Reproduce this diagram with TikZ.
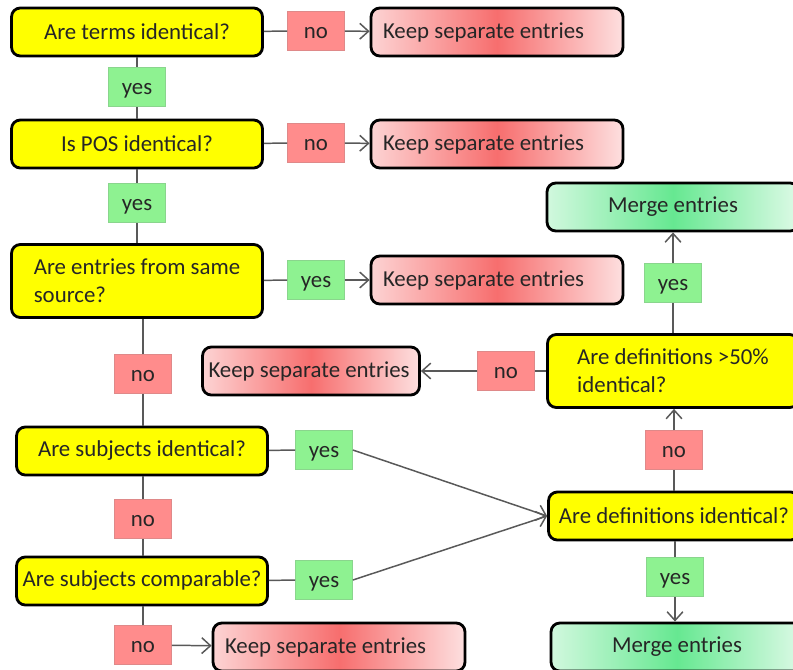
\documentclass[tikz,border=0pt]{standalone}
\usepackage{fontspec}
\setmainfont{Carlito}
\usetikzlibrary{positioning, arrows.meta}
\definecolor{ask-yellow}{HTML}{FFFF00}
\definecolor{tag-yes}{HTML}{8EF291}
\definecolor{tag-no}{HTML}{FF8C8C}
\definecolor{keep-red}{HTML}{F76E6E}
\definecolor{merge-green}{HTML}{66E891}
\definecolor{link-gray}{HTML}{595959}

\begin{document}
\begin{tikzpicture}[x=0.02cm, y=-0.02cm,
    ask/.style={draw, line width=1.6pt, rounded corners=5pt, fill=ask-yellow,
                minimum width=5.02cm, minimum height=0.96cm, align=left,
                font=\fontsize{13}{16}\selectfont, text=black!85},
    keep/.style={draw, line width=1.6pt, rounded corners=5pt,
                 minimum width=5.04cm, minimum height=0.96cm,
                 inner xsep=0.24cm, text width=4.56cm, align=flush left,
                 left color=keep-red!30, right color=keep-red!22, middle color=keep-red,
                 font=\fontsize{13}{16}\selectfont, text=black!85},
    merge/.style={keep, align=flush center, left color=merge-green!30, right color=merge-green!22,
                  middle color=merge-green},
    yestag/.style={fill=tag-yes, draw=tag-yes!75!gray, line width=0.4pt,
                   minimum width=1.14cm, minimum height=0.78cm,
                   text height=8pt, text depth=0pt,
                   font=\fontsize{13}{16}\selectfont, text=black!85},
    notag/.style={yestag, fill=tag-no, draw=tag-no!75!gray},
    link/.style={draw=link-gray, line width=0.85pt},
    flow/.style={link, -{Straight Barb[length=5pt, width=9pt]}},
]
    \useasboundingbox (0,0) rectangle (793,669);
    \clip (0,0) rectangle (793,669);

    \node[ask] (q1) at (137,32) {Are terms identical?};
    \node[ask] (q2) at (137,144) {Is POS identical?};
    \node[ask, minimum height=1.46cm] (q3) at (137,281) {Are entries from same\\source?};
    \node[ask] (q4) at (142,451) {Are subjects identical?};
    \node[ask] (q5) at (142,581) {Are subjects comparable?};
    \node[ask, minimum height=1.46cm] (q6) at (673,371) {Are definitions >50\%\\identical?};
    \node[ask] (q7) at (674,516) {Are definitions identical?};

    \node[keep] (k1) at (497,32) {Keep separate entries};
    \node[keep] (k2) at (497,144) {Keep separate entries};
    \node[keep] (k3) at (497,280) {Keep separate entries};
    \node[keep, minimum width=4.34cm, inner xsep=0.12cm, text width=4.1cm] (k4) at (311,371) {Keep separate entries};
    \node[keep] (k5) at (339,647) {Keep separate entries};
    \node[merge] (m1) at (673,207) {Merge entries};
    \node[merge] (m2) at (677,647) {Merge entries};

    \node[notag] (n1) at (316,31) {no};
    \node[yestag] (y1) at (137,87) {yes};
    \node[notag] (n2) at (316,143) {no};
    \node[yestag] (y2) at (137,203) {yes};
    \node[yestag] (y3) at (316,280) {yes};
    \node[notag] (n3) at (143,374) {no};
    \node[yestag] (y4) at (324,450) {yes};
    \node[notag] (n4) at (143,519) {no};
    \node[yestag] (y5) at (324,580) {yes};
    \node[notag] (n5) at (143,645) {no};
    \node[yestag] (y6) at (673,283) {yes};
    \node[notag] (n6) at (506,371) {no};
    \node[notag] (n7) at (674,450) {no};
    \node[yestag] (y7) at (675,577) {yes};

    \draw[link] (q1) -- (n1);
    \draw[flow] (n1) -- (k1);
    \draw[link] (q1) -- (y1);
    \draw[link] (y1) -- (q2);
    \draw[link] (q2) -- (n2);
    \draw[flow] (n2) -- (k2);
    \draw[link] (q2) -- (y2);
    \draw[link] (y2) -- (q3);
    \draw[link] (q3) -- (y3);
    \draw[flow] (y3) -- (k3);
    \draw[link] (n3) -- (n3 |- q3.south);
    \draw[link] (n3) -- (n3 |- q4.north);
    \draw[link] (q4) -- (y4);
    \draw[flow] (y4.east) -- (q7.west);
    \draw[link] (n4) -- (n4 |- q4.south);
    \draw[link] (n4) -- (n4 |- q5.north);
    \draw[link] (q5) -- (y5);
    \draw[flow] (y5.east) -- (q7.west);
    \draw[link] (n5) -- (n5 |- q5.south);
    \draw[flow] (n5) -- (k5);
    \draw[link] (n7) -- (n7 |- q7.north);
    \draw[flow] (n7) -- (n7 |- q6.south);
    \draw[link] (q6) -- (n6);
    \draw[flow] (n6) -- (k4);
    \draw[link] (q6) -- (y6);
    \draw[flow] (y6) -- (m1);
    \draw[link] (y7) -- (y7 |- q7.south);
    \draw[flow] (y7) -- (y7 |- m2.north);
\end{tikzpicture}
\end{document}
